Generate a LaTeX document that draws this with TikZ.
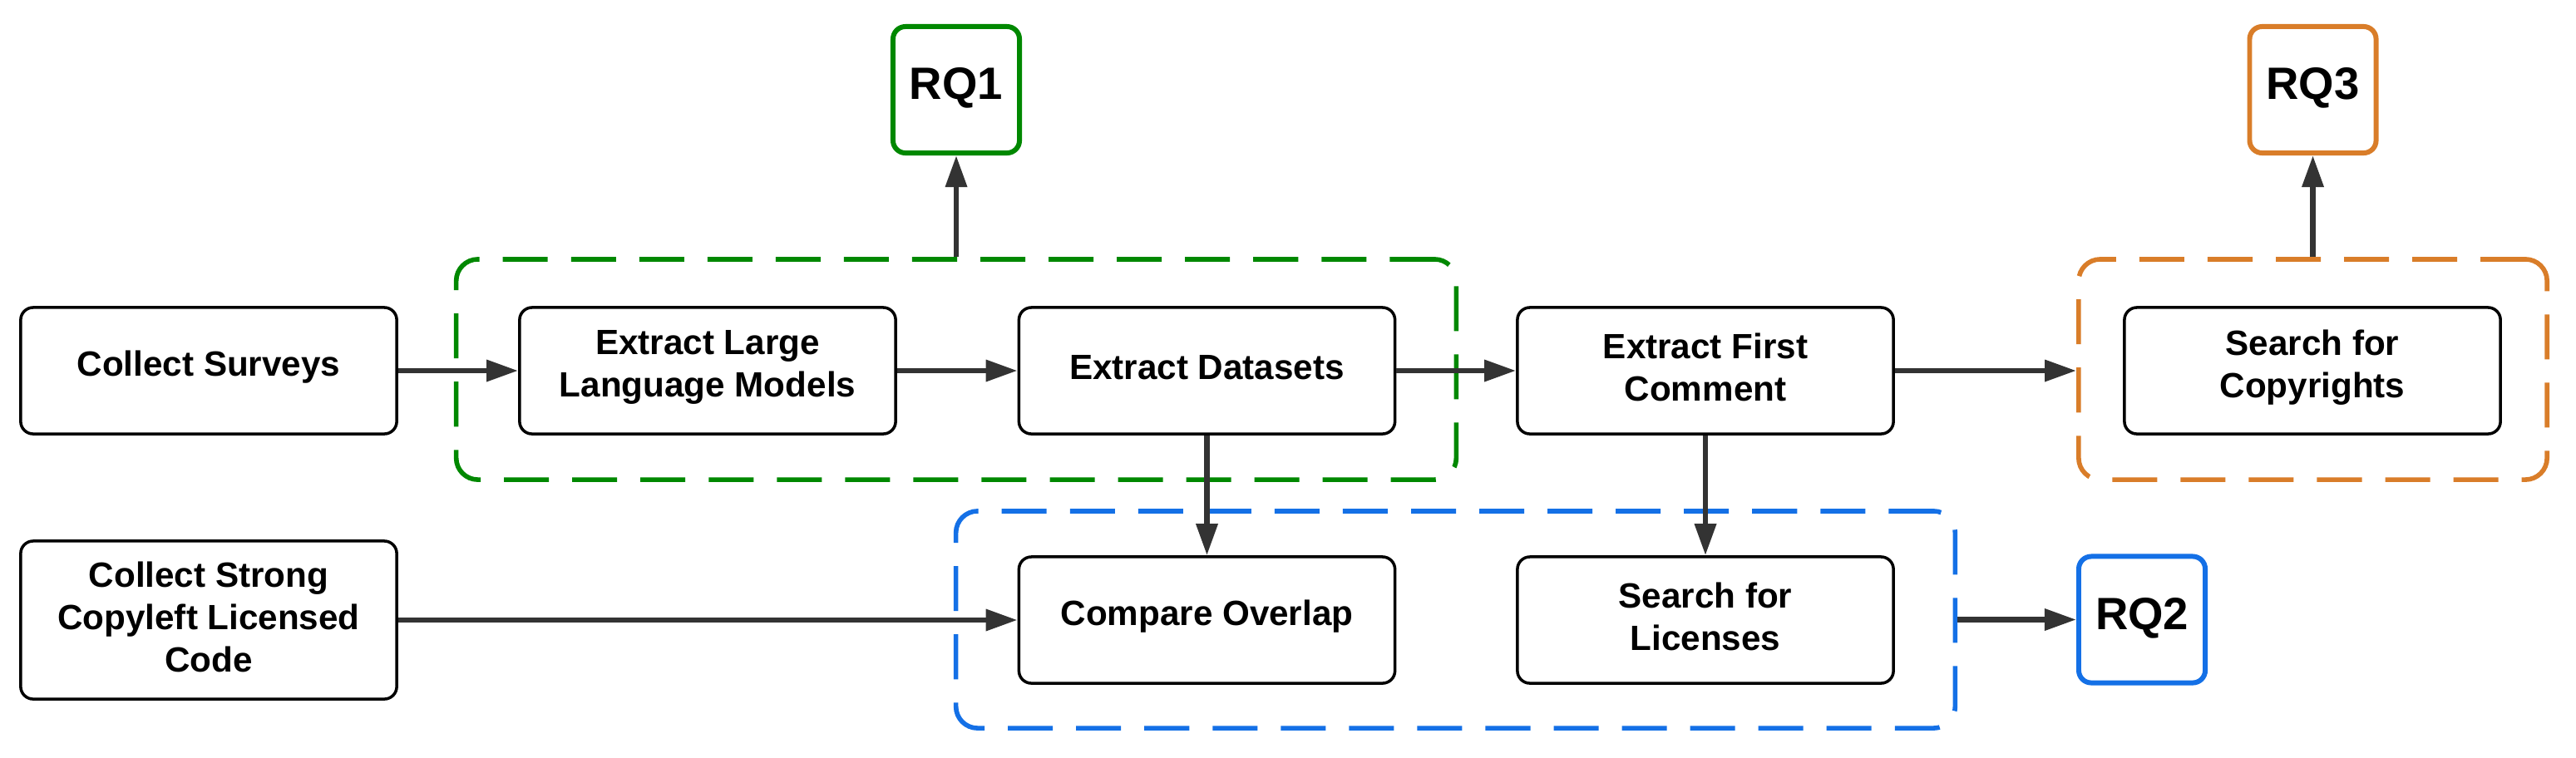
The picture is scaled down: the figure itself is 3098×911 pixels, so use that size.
\documentclass[tikz,border=0pt]{standalone}
\usepackage{fontspec}
\setmainfont{Liberation Sans}
\usetikzlibrary{arrows.meta}
\definecolor{cgreen}{RGB}{0,136,0}
\definecolor{corange}{RGB}{217,125,41}
\definecolor{cblue}{RGB}{20,112,230}
\definecolor{arrowgrey}{RGB}{51,51,51}
\begin{document}
\begin{tikzpicture}[x=0.01cm,y=-0.01cm,
 boxtext/.style={align=center, font=\fontsize{12}{14.5}\selectfont\bfseries, inner sep=0pt, yshift=0.04cm},
 rqtext/.style={font=\fontsize{15.5}{18}\selectfont\bfseries, inner sep=0pt, yshift=0.02cm},
 box/.style={draw=black, line width=1pt, rounded corners=0.15cm, minimum width=4.52cm, minimum height=1.52cm, inner sep=0pt, label={[boxtext]center:#1}},
 rq/.style={draw=#1, line width=1.7pt, rounded corners=0.15cm, minimum width=1.52cm, minimum height=1.52cm, inner sep=0pt},
 group/.style={draw=#1, line width=1.6pt, rounded corners=0.26cm, dash pattern=on 0.54cm off 0.28cm, inner sep=0pt},
 flow/.style={draw=arrowgrey, line width=1.85pt, -{Triangle[length=0.38cm,width=0.25cm]}}
]
\useasboundingbox (0,0) rectangle (3098,911);

% containers
\node[group=cgreen, minimum width=12.02cm, minimum height=2.65cm] (G) at (1150,444.5) {};
\node[group=corange, minimum width=5.63cm, minimum height=2.65cm] (O) at (2781.5,444.5) {};
\node[group=cblue, minimum width=12.01cm, minimum height=2.61cm] (B) at (1750.5,745.5) {};

% process boxes
\node[box={Collect Surveys}] (CS) at (251,446) {};
\node[box={Extract Large\\Language Models}] (LLM) at (851,446) {};
\node[box={Extract Datasets}] (DS) at (1451.5,446) {};
\node[box={Extract First\\Comment}] (FC) at (2051,446) {};
\node[box={Search for\\Copyrights}] (CR) at (2781,446) {};
\node[box={Collect Strong\\Copyleft Licensed\\Code}, minimum height=1.9cm] (CC) at (251,746) {};
\node[box={Compare Overlap}] (CO) at (1451.5,746) {};
\node[box={Search for\\Licenses}] (SL) at (2051,746) {};

% research questions
\node[rq=cgreen, label={[rqtext]center:RQ1}] (RQ1) at (1150,108) {};
\node[rq=corange, label={[rqtext]center:RQ3}] (RQ3) at (2781.5,108) {};
\node[rq=cblue, label={[rqtext]center:RQ2}] (RQ2) at (2576,745.5) {};

% connectors
\draw[flow] (CS) -- (LLM);
\draw[flow] (LLM) -- (DS);
\draw[flow] (DS) -- (FC);
\draw[flow] (FC.east) -- (FC.east -| O.west);
\draw[flow] (G.north) -- (RQ1.south);
\draw[flow] (O.north) -- (RQ3.south);
\draw[flow] (DS.south) -- (CO.north);
\draw[flow] (FC.south) -- (SL.north);
\draw[flow] (CC) -- (CO);
\draw[flow] (B.east) -- (RQ2.west);
\end{tikzpicture}
\end{document}
